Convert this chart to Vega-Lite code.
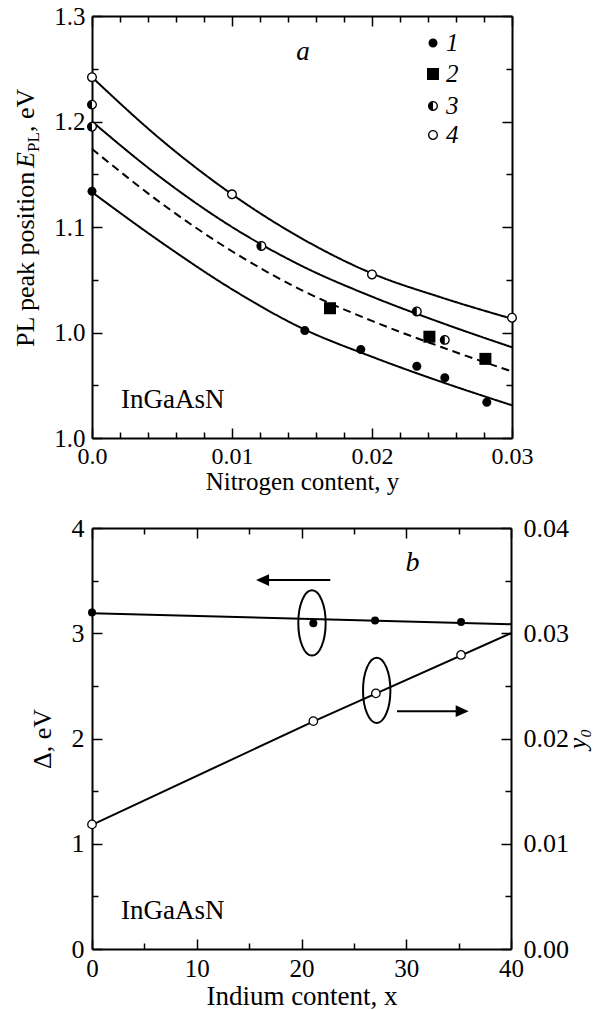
{
  "$schema": "https://vega.github.io/schema/vega-lite/v6.json",
  "padding": {"left": 12, "top": 4, "right": 5, "bottom": 2},
  "bounds": "flush",
  "spacing": 90,
  "config": {
    "font": "Liberation Serif",
    "view": {"stroke": null},
    "axis": {"domainColor": "black", "domainWidth": 2, "tickColor": "black", "tickWidth": 1.5, "labelColor": "black", "titleColor": "black", "titleFontWeight": "normal", "grid": false, "labelFont": "Liberation Serif", "titleFont": "Liberation Serif", "labelOverlap": false, "labelFlush": false}
  },
  "datasets": {
    "curvesA": [
      {"s": "1", "x": 0, "E": 1.133}, {"s": "1", "x": 0.005, "E": 1.085}, {"s": "1", "x": 0.01, "E": 1.041}, {"s": "1", "x": 0.015, "E": 1.004}, {"s": "1", "x": 0.02, "E": 0.977}, {"s": "1", "x": 0.025, "E": 0.953}, {"s": "1", "x": 0.03, "E": 0.931},
      {"s": "2", "x": 0, "E": 1.174}, {"s": "2", "x": 0.005, "E": 1.122}, {"s": "2", "x": 0.01, "E": 1.077}, {"s": "2", "x": 0.015, "E": 1.040}, {"s": "2", "x": 0.02, "E": 1.011}, {"s": "2", "x": 0.025, "E": 0.986}, {"s": "2", "x": 0.03, "E": 0.963},
      {"s": "3", "x": 0, "E": 1.200}, {"s": "3", "x": 0.005, "E": 1.146}, {"s": "3", "x": 0.01, "E": 1.100}, {"s": "3", "x": 0.015, "E": 1.063}, {"s": "3", "x": 0.02, "E": 1.034}, {"s": "3", "x": 0.025, "E": 1.009}, {"s": "3", "x": 0.03, "E": 0.986},
      {"s": "4", "x": 0, "E": 1.242}, {"s": "4", "x": 0.005, "E": 1.182}, {"s": "4", "x": 0.01, "E": 1.131}, {"s": "4", "x": 0.015, "E": 1.089}, {"s": "4", "x": 0.02, "E": 1.056}, {"s": "4", "x": 0.025, "E": 1.033}, {"s": "4", "x": 0.03, "E": 1.013}
    ],
    "pointsA": [
      {"s": "1", "x": 0, "E": 1.134}, {"s": "1", "x": 0.0152, "E": 1.002}, {"s": "1", "x": 0.0192, "E": 0.984}, {"s": "1", "x": 0.0232, "E": 0.968}, {"s": "1", "x": 0.0252, "E": 0.957}, {"s": "1", "x": 0.0282, "E": 0.934},
      {"s": "2", "x": 0.0170, "E": 1.023}, {"s": "2", "x": 0.0241, "E": 0.996}, {"s": "2", "x": 0.0281, "E": 0.975},
      {"s": "3", "x": 0, "E": 1.216}, {"s": "3", "x": 0, "E": 1.195}, {"s": "3", "x": 0.0121, "E": 1.082}, {"s": "3", "x": 0.0232, "E": 1.020}, {"s": "3", "x": 0.0252, "E": 0.993},
      {"s": "4", "x": 0, "E": 1.242}, {"s": "4", "x": 0.0100, "E": 1.131}, {"s": "4", "x": 0.0200, "E": 1.055}, {"s": "4", "x": 0.0300, "E": 1.014}
    ],
    "legendA": [
      {"s": "1", "x": 0.024357, "E": 1.27441}, {"s": "2", "x": 0.024357, "E": 1.24502}, {"s": "3", "x": 0.024357, "E": 1.21469}, {"s": "4", "x": 0.024357, "E": 1.18720}
    ],
    "dLine": [{"x": 0, "d": 3.19}, {"x": 40, "d": 3.086}],
    "dPts": [{"x": 0, "d": 3.197}, {"x": 21.13, "d": 3.095}, {"x": 27.02, "d": 3.121}, {"x": 35.23, "d": 3.108}],
    "yLine": [{"x": 0, "y0": 0.0118}, {"x": 21.1, "y0": 0.0216}, {"x": 40, "y0": 0.0300}],
    "yPts": [{"x": 0, "y0": 0.01184}, {"x": 21.13, "y0": 0.02165}, {"x": 27.1, "y0": 0.02429}, {"x": 35.23, "y0": 0.02794}],
    "ellipses": [{"x": 21.0, "d": 3.098}, {"x": 27.18, "d": 2.457}],
    "arrows": [{"dir": "left", "x1": 22.75, "xh": 16.28, "d": 3.505}, {"dir": "right", "x1": 29.12, "xh": 35.34, "d": 2.26}]
  },
  "vconcat": [
    {
      "width": 420,
      "height": 422,
      "layer": [
        {
          "data": {"name": "curvesA"},
          "mark": {"type": "line", "interpolate": "monotone", "color": "black", "strokeWidth": 2},
          "encoding": {
            "x": {"field": "x", "type": "quantitative", "scale": {"domain": [0, 0.03], "nice": false, "zero": false},
              "axis": {"orient": "bottom", "values": [0, 0.01, 0.02, 0.03], "tickSize": -10,
                "labelExpr": "datum.value==0 ? '0.0' : format(datum.value,'.2f')",
                "labelFontSize": 24, "labelPadding": 16, "title": "Nitrogen content, y", "titleFontSize": 25, "titlePadding": 1}},
            "y": {"field": "E", "type": "quantitative", "scale": {"domain": [0.9, 1.3], "nice": false, "zero": false},
              "axis": {"orient": "left", "values": [0.9, 1.0, 1.1, 1.2, 1.3], "tickSize": -10,
                "labelExpr": "datum.value<0.95 ? '1.0' : format(datum.value,'.1f')",
                "labelFontSize": 25, "labelPadding": 17, "title": null}},
            "strokeDash": {"field": "s", "type": "nominal", "scale": {"domain": ["1", "2", "3", "4"], "range": [[1, 0], [8, 5], [1, 0], [1, 0]]}, "legend": null}
          }
        },
        {
          "data": {"name": "pointsA"},
          "transform": [{"filter": "datum.s == '3' || datum.s == '4'"}],
          "mark": {"type": "point", "filled": true, "opacity": 1, "color": "white", "shape": "circle", "size": 75, "strokeWidth": 0},
          "encoding": {
            "x": {"field": "x", "type": "quantitative", "scale": {"domain": [0, 0.03], "nice": false, "zero": false},
              "axis": {"orient": "bottom", "values": [0.002, 0.004, 0.006, 0.008, 0.012, 0.014, 0.016, 0.018, 0.022, 0.024, 0.026, 0.028], "tickSize": -6, "domain": false, "labels": false, "title": null}},
            "y": {"field": "E", "type": "quantitative", "scale": {"domain": [0.9, 1.3], "nice": false, "zero": false},
              "axis": {"orient": "left", "values": [0.95, 1.05, 1.15, 1.25], "tickSize": -6, "domain": false, "labels": false, "title": null}}
          }
        },
        {
          "data": {"name": "pointsA"},
          "mark": {"type": "point", "filled": true, "opacity": 1, "color": "black", "size": 144, "strokeWidth": 0},
          "encoding": {
            "x": {"field": "x", "type": "quantitative", "scale": {"domain": [0, 0.03], "nice": false, "zero": false},
              "axis": {"orient": "top", "values": [0, 0.01, 0.02, 0.03], "tickSize": -10, "labels": false, "title": null}},
            "y": {"field": "E", "type": "quantitative", "scale": {"domain": [0.9, 1.3], "nice": false, "zero": false},
              "axis": {"orient": "right", "values": [0.9, 1.0, 1.1, 1.2, 1.3], "tickSize": -10, "labels": false, "title": null}},
            "shape": {"field": "s", "type": "nominal",
              "scale": {"domain": ["1", "2", "3", "4"], "range": [
                "M0,-0.75C0.4142,-0.75 0.75,-0.4142 0.75,0C0.75,0.4142 0.4142,0.75 0,0.75C-0.4142,0.75 -0.75,0.4142 -0.75,0C-0.75,-0.4142 -0.4142,-0.75 0,-0.75Z",
                "M-1,-1L1,-1L1,1L-1,1Z",
                "M0,-0.83C0.4584,-0.83 0.83,-0.4584 0.83,0C0.83,0.4584 0.4584,0.83 0,0.83C-0.4584,0.83 -0.83,0.4584 -0.83,0C-0.83,-0.4584 -0.4584,-0.83 0,-0.83ZM0,-0.61C-0.3369,-0.61 -0.61,-0.3369 -0.61,0C-0.61,0.3369 -0.3369,0.61 0,0.61C0.3369,0.61 0.61,0.3369 0.61,0C0.61,-0.3369 0.3369,-0.61 0,-0.61ZM0,0.83C-0.4584,0.83 -0.83,0.4584 -0.83,0C-0.83,-0.4584 -0.4584,-0.83 0,-0.83Z",
                "M0,-0.83C0.4584,-0.83 0.83,-0.4584 0.83,0C0.83,0.4584 0.4584,0.83 0,0.83C-0.4584,0.83 -0.83,0.4584 -0.83,0C-0.83,-0.4584 -0.4584,-0.83 0,-0.83ZM0,-0.61C-0.3369,-0.61 -0.61,-0.3369 -0.61,0C-0.61,0.3369 -0.3369,0.61 0,0.61C0.3369,0.61 0.61,0.3369 0.61,0C0.61,-0.3369 0.3369,-0.61 0,-0.61Z"
              ]},
              "legend": null}
          }
        },
        {
          "data": {"name": "legendA"},
          "mark": {"type": "point", "filled": true, "opacity": 1, "color": "black", "size": 144, "strokeWidth": 0},
          "encoding": {
            "x": {"field": "x", "type": "quantitative", "scale": {"domain": [0, 0.03], "nice": false, "zero": false}, "axis": null},
            "y": {"field": "E", "type": "quantitative", "scale": {"domain": [0.9, 1.3], "nice": false, "zero": false}, "axis": null},
            "shape": {"field": "s", "type": "nominal", "legend": null}
          }
        },
        {
          "data": {"name": "legendA"},
          "mark": {"type": "text", "fontSize": 25, "fontStyle": "italic", "align": "left", "baseline": "middle", "dx": 13, "color": "black"},
          "encoding": {
            "x": {"field": "x", "type": "quantitative", "scale": {"domain": [0, 0.03], "nice": false, "zero": false}, "axis": null},
            "y": {"field": "E", "type": "quantitative", "scale": {"domain": [0.9, 1.3], "nice": false, "zero": false}, "axis": null},
            "text": {"field": "s"}
          }
        },
        {
          "data": {"values": [{"t": "a", "x": 0.01507, "E": 1.2659}]},
          "mark": {"type": "text", "fontSize": 27, "fontStyle": "italic", "align": "center", "baseline": "middle", "color": "black"},
          "encoding": {
            "x": {"field": "x", "type": "quantitative", "scale": {"domain": [0, 0.03], "nice": false, "zero": false},
              "axis": {"orient": "top", "values": [0.002, 0.004, 0.006, 0.008, 0.012, 0.014, 0.016, 0.018, 0.022, 0.024, 0.026, 0.028], "tickSize": -6, "domain": false, "labels": false, "title": null}},
            "y": {"field": "E", "type": "quantitative", "scale": {"domain": [0.9, 1.3], "nice": false, "zero": false},
              "axis": {"orient": "right", "values": [0.95, 1.05, 1.15, 1.25], "tickSize": -6, "domain": false, "labels": false, "title": null}},
            "text": {"field": "t"}
          }
        },
        {
          "data": {"values": [{"t": "InGaAsN", "x": 0.00207, "E": 0.9284}]},
          "mark": {"type": "text", "fontSize": 27, "align": "left", "baseline": "alphabetic", "color": "black"},
          "encoding": {
            "x": {"field": "x", "type": "quantitative", "scale": {"domain": [0, 0.03], "nice": false, "zero": false}, "axis": null},
            "y": {"field": "E", "type": "quantitative", "scale": {"domain": [0.9, 1.3], "nice": false, "zero": false}, "axis": null},
            "text": {"field": "t"}
          }
        },
        {
          "data": {"values": [{"t": "PL peak position", "x": -0.004143, "E": 0.98626}, {"t": ", eV", "x": -0.004143, "E": 1.19005}]},
          "mark": {"type": "text", "fontSize": 26, "angle": 270, "align": "left", "baseline": "alphabetic", "color": "black"},
          "encoding": {
            "x": {"field": "x", "type": "quantitative", "scale": {"domain": [0, 0.03], "nice": false, "zero": false}, "axis": null},
            "y": {"field": "E", "type": "quantitative", "scale": {"domain": [0.9, 1.3], "nice": false, "zero": false}, "axis": null},
            "text": {"field": "t"}
          }
        },
        {
          "data": {"values": [{"t": "E", "x": -0.004143, "E": 1.15592}]},
          "mark": {"type": "text", "fontSize": 26, "fontStyle": "italic", "angle": 270, "align": "left", "baseline": "alphabetic", "color": "black"},
          "encoding": {
            "x": {"field": "x", "type": "quantitative", "scale": {"domain": [0, 0.03], "nice": false, "zero": false}, "axis": null},
            "y": {"field": "E", "type": "quantitative", "scale": {"domain": [0.9, 1.3], "nice": false, "zero": false}, "axis": null},
            "text": {"field": "t"}
          }
        },
        {
          "data": {"values": [{"t": "PL", "x": -0.003786, "E": 1.17109}]},
          "mark": {"type": "text", "fontSize": 17, "angle": 270, "align": "left", "baseline": "alphabetic", "color": "black"},
          "encoding": {
            "x": {"field": "x", "type": "quantitative", "scale": {"domain": [0, 0.03], "nice": false, "zero": false}, "axis": null},
            "y": {"field": "E", "type": "quantitative", "scale": {"domain": [0.9, 1.3], "nice": false, "zero": false}, "axis": null},
            "text": {"field": "t"}
          }
        }
      ],
      "resolve": {"axis": {"x": "independent", "y": "independent"}}
    },
    {
      "width": 419,
      "height": 421,
      "layer": [
        {
          "data": {"name": "dLine"},
          "mark": {"type": "line", "color": "black", "strokeWidth": 2},
          "encoding": {
            "x": {"field": "x", "type": "quantitative", "scale": {"domain": [0, 40], "nice": false, "zero": false},
              "axis": {"orient": "bottom", "values": [0, 10, 20, 30, 40], "tickSize": -10, "format": "d",
                "labelFontSize": 25, "labelPadding": 17, "title": "Indium content, x", "titleFontSize": 27, "titlePadding": 2}},
            "y": {"field": "d", "type": "quantitative", "scale": {"domain": [0, 4], "nice": false, "zero": false},
              "axis": {"orient": "left", "values": [0, 1, 2, 3, 4], "tickSize": -10, "format": "d",
                "labelFontSize": 26, "labelPadding": 18, "title": "Δ, eV", "titleFontSize": 26, "titlePadding": 16}}
          }
        },
        {
          "data": {"name": "yLine"},
          "mark": {"type": "line", "color": "black", "strokeWidth": 2},
          "encoding": {
            "x": {"field": "x", "type": "quantitative", "scale": {"domain": [0, 40], "nice": false, "zero": false},
              "axis": {"orient": "top", "values": [0, 10, 20, 30, 40], "tickSize": -10, "labels": false, "title": null}},
            "y": {"field": "y0", "type": "quantitative", "scale": {"domain": [0, 0.04], "nice": false, "zero": false},
              "axis": {"orient": "right", "values": [0, 0.01, 0.02, 0.03, 0.04], "tickSize": -10, "format": ".2f",
                "labelFontSize": 26, "labelPadding": 22, "title": "y₀", "titleFontSize": 26, "titleFontStyle": "italic", "titleAngle": 270, "titleBaseline": "top", "titlePadding": -4}}
          }
        },
        {
          "data": {"name": "dPts"},
          "mark": {"type": "point", "filled": true, "opacity": 1, "color": "black", "shape": "circle", "size": 64},
          "encoding": {
            "x": {"field": "x", "type": "quantitative", "scale": {"domain": [0, 40], "nice": false, "zero": false},
              "axis": {"orient": "bottom", "values": [5, 15, 25, 35], "tickSize": -6, "domain": false, "labels": false, "title": null}},
            "y": {"field": "d", "type": "quantitative", "scale": {"domain": [0, 4], "nice": false, "zero": false},
              "axis": {"orient": "left", "values": [0.5, 1.5, 2.5, 3.5], "tickSize": -6, "domain": false, "labels": false, "title": null}}
          }
        },
        {
          "data": {"name": "yPts"},
          "mark": {"type": "point", "filled": true, "opacity": 1, "fill": "white", "stroke": "black", "strokeWidth": 1.3, "shape": "circle", "size": 72},
          "encoding": {
            "x": {"field": "x", "type": "quantitative", "scale": {"domain": [0, 40], "nice": false, "zero": false},
              "axis": {"orient": "top", "values": [5, 15, 25, 35], "tickSize": -6, "domain": false, "labels": false, "title": null}},
            "y": {"field": "y0", "type": "quantitative", "scale": {"domain": [0, 0.04], "nice": false, "zero": false},
              "axis": {"orient": "right", "values": [0.005, 0.015, 0.025, 0.035], "tickSize": -6, "domain": false, "labels": false, "title": null}}
          }
        },
        {
          "data": {"name": "ellipses"},
          "mark": {"type": "point", "filled": false, "opacity": 1, "stroke": "black", "strokeWidth": 2, "size": 4264,
            "shape": "M0,-1C0.2314,-1 0.419,-0.5523 0.419,0C0.419,0.5523 0.2314,1 0,1C-0.2314,1 -0.419,0.5523 -0.419,0C-0.419,-0.5523 -0.2314,-1 0,-1Z"},
          "encoding": {
            "x": {"field": "x", "type": "quantitative", "scale": {"domain": [0, 40], "nice": false, "zero": false}, "axis": null},
            "y": {"field": "d", "type": "quantitative", "scale": {"domain": [0, 4], "nice": false, "zero": false}, "axis": null}
          }
        },
        {
          "data": {"name": "arrows"},
          "mark": {"type": "rule", "color": "black", "strokeWidth": 2},
          "encoding": {
            "x": {"field": "x1", "type": "quantitative", "scale": {"domain": [0, 40], "nice": false, "zero": false}, "axis": null},
            "x2": {"field": "xh"},
            "y": {"field": "d", "type": "quantitative", "scale": {"domain": [0, 4], "nice": false, "zero": false}, "axis": null}
          }
        },
        {
          "data": {"name": "arrows"},
          "transform": [{"filter": "datum.dir == 'left'"}],
          "mark": {"type": "point", "filled": true, "opacity": 1, "color": "black", "size": 169, "strokeWidth": 0, "shape": "M-1,0L1,-0.9L1,0.9Z"},
          "encoding": {
            "x": {"field": "xh", "type": "quantitative", "scale": {"domain": [0, 40], "nice": false, "zero": false}, "axis": null},
            "y": {"field": "d", "type": "quantitative", "scale": {"domain": [0, 4], "nice": false, "zero": false}, "axis": null}
          }
        },
        {
          "data": {"name": "arrows"},
          "transform": [{"filter": "datum.dir == 'right'"}],
          "mark": {"type": "point", "filled": true, "opacity": 1, "color": "black", "size": 169, "strokeWidth": 0, "shape": "M1,0L-1,-0.9L-1,0.9Z"},
          "encoding": {
            "x": {"field": "xh", "type": "quantitative", "scale": {"domain": [0, 40], "nice": false, "zero": false}, "axis": null},
            "y": {"field": "d", "type": "quantitative", "scale": {"domain": [0, 4], "nice": false, "zero": false}, "axis": null}
          }
        },
        {
          "data": {"values": [{"t": "b", "x": 30.6, "d": 3.664}]},
          "mark": {"type": "text", "fontSize": 28, "fontStyle": "italic", "align": "center", "baseline": "middle", "color": "black"},
          "encoding": {
            "x": {"field": "x", "type": "quantitative", "scale": {"domain": [0, 40], "nice": false, "zero": false}, "axis": null},
            "y": {"field": "d", "type": "quantitative", "scale": {"domain": [0, 4], "nice": false, "zero": false}, "axis": null},
            "text": {"field": "t"}
          }
        },
        {
          "data": {"values": [{"t": "InGaAsN", "x": 2.77, "d": 0.286}]},
          "mark": {"type": "text", "fontSize": 27, "align": "left", "baseline": "alphabetic", "color": "black"},
          "encoding": {
            "x": {"field": "x", "type": "quantitative", "scale": {"domain": [0, 40], "nice": false, "zero": false}, "axis": null},
            "y": {"field": "d", "type": "quantitative", "scale": {"domain": [0, 4], "nice": false, "zero": false}, "axis": null},
            "text": {"field": "t"}
          }
        }
      ],
      "resolve": {"scale": {"y": "independent"}, "axis": {"x": "independent", "y": "independent"}}
    }
  ]
}
